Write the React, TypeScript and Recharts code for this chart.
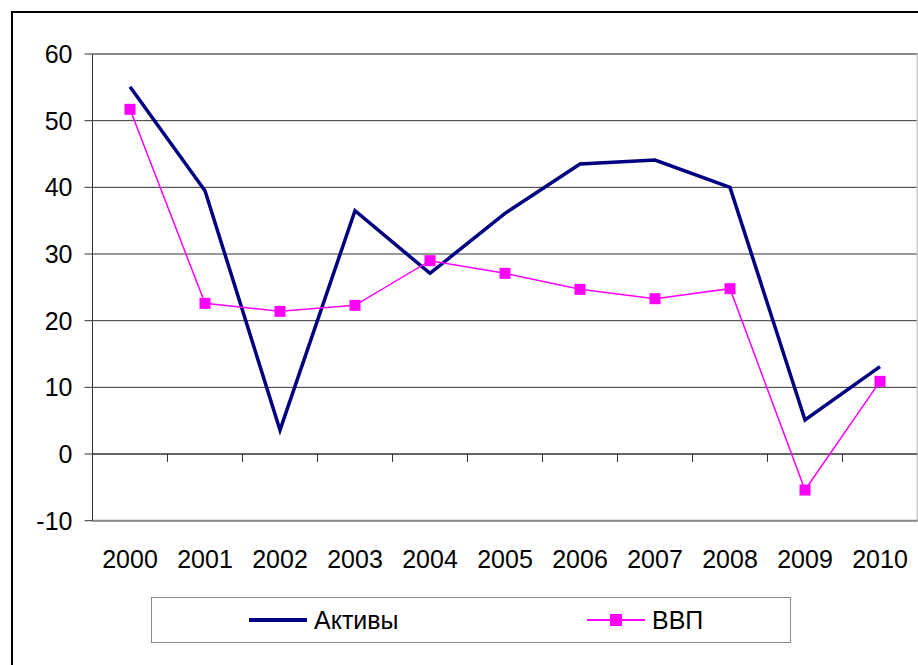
import React from "react";
import { LineChart, Line, XAxis, YAxis, CartesianGrid, ReferenceLine, Legend } from "recharts";

const YEARS = ["2000", "2001", "2002", "2003", "2004", "2005", "2006", "2007", "2008", "2009", "2010"];
const AKTIVY = [55.1, 39.5, 3.6, 36.5, 27.1, 36.1, 43.5, 44.1, 40.0, 5.1, 13.1];
const VVP = [51.7, 22.6, 21.4, 22.3, 29.0, 27.1, 24.7, 23.3, 24.8, -5.4, 10.9];
const Y_TICKS = [-10, 0, 10, 20, 30, 40, 50, 60];

const SERIES = [
  { key: "aktivy", name: "Активы", color: "#000080", width: 3.5, marker: false },
  { key: "vvp", name: "ВВП", color: "#ff00ff", width: 1.5, marker: true },
];

const data = YEARS.map((year, i) => ({ idx: i, year, aktivy: AKTIVY[i], vvp: VVP[i] }));
const X_TICKS = YEARS.map((_, i) => i);
// category boundaries, where Excel puts the small tick marks on the zero line
const BOUNDARIES = YEARS.slice(1).map((_, i) => i + 0.5);

const FONT = "'Liberation Sans', Arial, sans-serif";
const LEGEND_ITEM_X = [97, 435];

function SquareDot(props: any) {
  const { cx, cy, index } = props;
  if (cx == null || cy == null) return <g key={`e-${index}`} />;
  return <rect key={`d-${index}`} x={cx - 5.5} y={cy - 5.5} width={11} height={11} fill="#ff00ff" />;
}

function renderLegend(props: any) {
  const payload = props.payload || [];
  return (
    <div
      style={{
        position: "relative",
        width: 640,
        height: 46,
        border: "1.5px solid #8a8a8a",
        boxSizing: "border-box",
        background: "#fff",
        fontFamily: FONT,
        fontSize: 25,
        color: "#000",
      }}
    >
      {SERIES.map((s, i) => {
        const entry = payload.find((p: any) => p.dataKey === s.key) || { value: s.name, color: s.color };
        return (
          <div key={s.key} style={{ position: "absolute", left: LEGEND_ITEM_X[i], top: 0, height: 44, display: "flex", alignItems: "center" }}>
            <svg width={58} height={14} style={{ marginRight: 7 }}>
              <line x1={0} y1={7} x2={58} y2={7} stroke={entry.color} strokeWidth={s.width + 0.5} />
              {s.marker && <rect x={23} y={1} width={12} height={12} fill={entry.color} />}
            </svg>
            <span style={{ lineHeight: "44px" }}>{entry.value}</span>
          </div>
        );
      })}
    </div>
  );
}

export default function App() {
  return (
    <div style={{ position: "absolute", left: 0, top: 0, width: 918, height: 665, overflow: "hidden", background: "#fff", fontFamily: FONT }}>
      <div style={{ position: "absolute", left: 11, top: 11, width: 940, height: 700, border: "2px solid #000" }} />
      <div style={{ position: "absolute", left: 0, top: 0 }}>
        <LineChart width={918} height={665} data={data} margin={{ top: 54, right: 0.5, left: 0, bottom: 84.3 }}>
          <CartesianGrid vertical={false} stroke="#333" strokeWidth={1} />
          <XAxis
            type="number"
            dataKey="idx"
            domain={[-0.5, 10.5]}
            ticks={X_TICKS}
            tickFormatter={(i: number) => YEARS[i]}
            interval={0}
            height={60}
            tickLine={false}
            tickSize={6}
            tickMargin={24}
            axisLine={{ stroke: "#8a8a8a", strokeWidth: 2 }}
            tick={{ fill: "#000", fontSize: 25, fontFamily: FONT }}
          />
          <YAxis
            domain={[-10, 60]}
            ticks={Y_TICKS}
            interval={0}
            width={92.5}
            tickSize={8}
            tickMargin={12}
            axisLine={{ stroke: "#333" }}
            tickLine={{ stroke: "#333" }}
            tick={{ fill: "#000", fontSize: 25, fontFamily: FONT }}
          />
          <ReferenceLine y={60} stroke="#8a8a8a" strokeWidth={2} />
          <ReferenceLine x={10.5} stroke="#c8c8c8" strokeWidth={2} />
          <ReferenceLine y={0} stroke="#333" />
          {BOUNDARIES.map((b) => (
            <ReferenceLine
              key={b}
              segment={[
                { x: b, y: 0 },
                { x: b, y: -1.2 },
              ]}
              stroke="#333"
            />
          ))}
          <Legend
            layout="horizontal"
            verticalAlign="middle"
            align="center"
            content={renderLegend}
            wrapperStyle={{ left: 151, top: 597, width: 640, height: 46 }}
          />
          {SERIES.map((s) => (
            <Line
              key={s.key}
              type="linear"
              dataKey={s.key}
              name={s.name}
              stroke={s.color}
              strokeWidth={s.width}
              dot={s.marker ? SquareDot : false}
              activeDot={false}
              isAnimationActive={false}
            />
          ))}
        </LineChart>
      </div>
    </div>
  );
}
